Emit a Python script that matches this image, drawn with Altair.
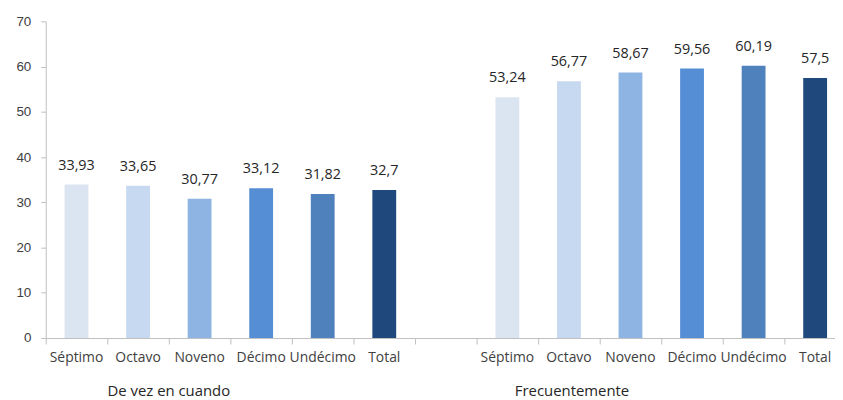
import altair as alt
import pandas as pd

categories = ["Séptimo", "Octavo", "Noveno", "Décimo", "Undécimo", "Total"]
groups = ["De vez en cuando", "Frecuentemente"]
values_de_vez = [33.93, 33.65, 30.77, 33.12, 31.82, 32.7]
values_frec = [53.24, 56.77, 58.67, 59.56, 60.19, 57.5]
colors = ["#DBE4F1", "#C6D9F1", "#8DB4E2", "#558ED5", "#4F81BD", "#1F497D"]
y_ticks = [0, 10, 20, 30, 40, 50, 60, 70]

STEP = 62.0
WIDTH = 795
HEIGHT = 319
half = 12.0 / STEP

rows = []
for gi, (g, vals) in enumerate(zip(groups, [values_de_vez, values_frec])):
    for ci, (c, v) in enumerate(zip(categories, vals)):
        pos = gi * (len(categories) + 1) + ci + 0.5
        rows.append({
            "grupo": g, "cat": c, "value": v, "pos": pos, "zero": 0,
            "x0": pos - half, "x1": pos + half,
            "label": f"{v:g}".replace(".", ","),
        })
df = pd.DataFrame(rows)

grp_df = pd.DataFrame({"grupo": groups, "gx": [2.0, 8.55]})

xmax = WIDTH / STEP
xs = alt.Scale(domain=[0, xmax], nice=False, zero=False)
ys = alt.Scale(domain=[0, 70], nice=False)

x_axis = alt.Axis(values=list(range(0, 14)), labels=False, title=None, grid=False,
                  domainColor="#BFBFBF", tickColor="#BFBFBF", tickSize=6)
y_axis = alt.Axis(values=y_ticks, title=None, grid=False, domainColor="#BFBFBF",
                  tickColor="#BFBFBF", tickSize=5, labelPadding=10,
                  labelFont="Liberation Sans", labelFontSize=13.5, labelColor="#404040")

color_scale = alt.Scale(domain=categories, range=colors)

bars = alt.Chart(df).mark_bar().encode(
    x=alt.X("x0:Q", scale=xs, axis=x_axis),
    x2="x1:Q",
    y=alt.Y("value:Q", scale=ys, axis=y_axis),
    y2="zero:Q",
    color=alt.Color("cat:N", scale=color_scale, legend=None),
)

vlabels = alt.Chart(df).mark_text(
    baseline="middle", dy=-19, font="Open Sans", fontSize=14.5, color="#262626"
).encode(
    x=alt.X("pos:Q", scale=xs, axis=x_axis),
    y=alt.Y("value:Q", scale=ys, axis=y_axis),
    text="label:N",
)

clabels = alt.Chart(df).mark_text(
    baseline="middle", font="Open Sans", fontSize=14, color="#404040"
).encode(
    x=alt.X("pos:Q", scale=xs, axis=x_axis),
    y=alt.value(339),
    text="cat:N",
)

glabels = alt.Chart(grp_df).mark_text(
    baseline="middle", font="Open Sans", fontSize=15, color="#262626"
).encode(
    x=alt.X("gx:Q", scale=xs, axis=x_axis),
    y=alt.value(372),
    text="grupo:N",
)

chart = alt.layer(bars, vlabels, clabels, glabels).properties(
    width=WIDTH, height=HEIGHT,
    autosize=alt.AutoSizeParams(type="none"),
    padding={"left": 38, "top": 12, "right": 0, "bottom": 60},
).configure_view(stroke=None)

chart.save("out.html", embed_options={"renderer": "svg", "actions": False})
